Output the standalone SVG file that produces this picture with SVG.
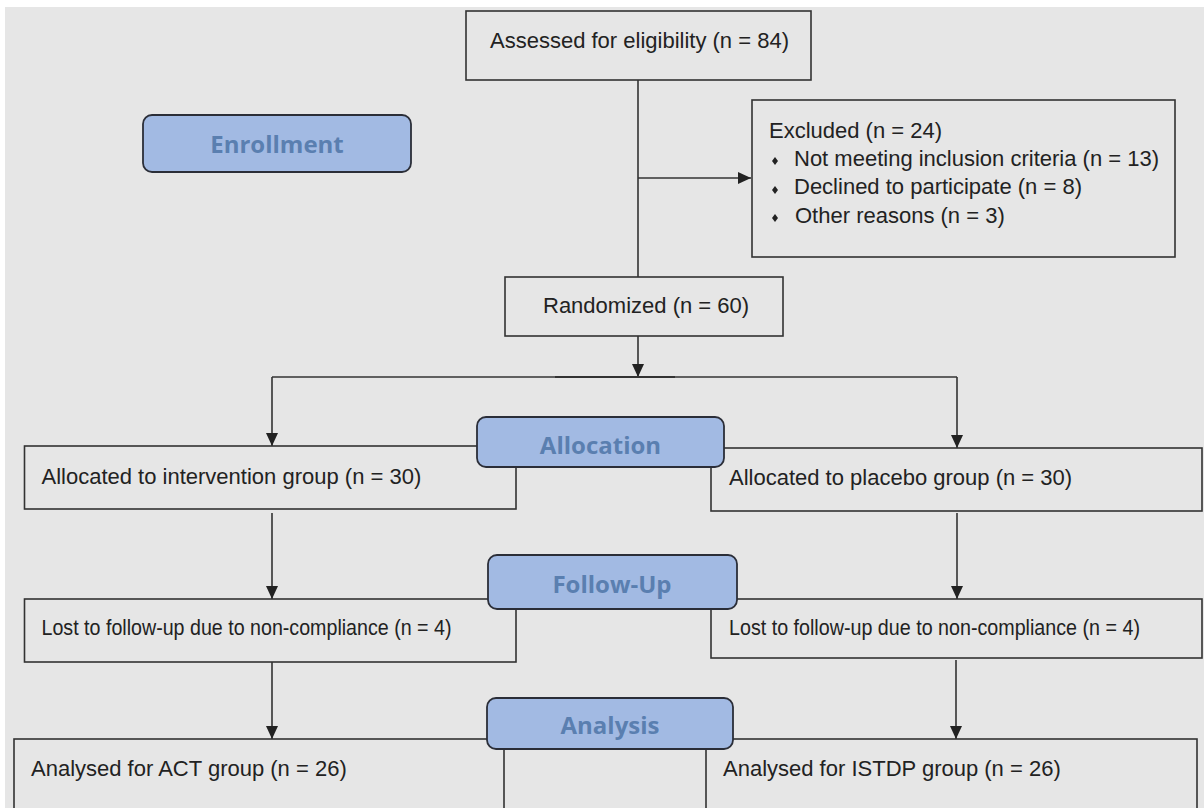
<svg xmlns="http://www.w3.org/2000/svg" width="1204" height="808" viewBox="0 0 1204 808">
<style>
.box{fill:#e6e6e6;stroke:#333;stroke-width:1.6}
.lbl{fill:#a2bae3;stroke:#2b2e38;stroke-width:1.8}
.t{font-family:"Liberation Sans",Arial,sans-serif;font-size:22px;fill:#222}
.lt{font-family:"Open Sans","Noto Sans",sans-serif;font-size:24px;font-weight:700;fill:#5a7fb0;text-anchor:middle}
.ln{fill:none;stroke:#333;stroke-width:1.6}
</style>
<defs>
<marker id="arr" viewBox="0 0 13 12" refX="13" refY="6" markerWidth="13" markerHeight="12" markerUnits="userSpaceOnUse" orient="auto">
<path d="M0,0 L13,6 L0,12 Z" fill="#222"/>
</marker>
<polygon id="bul" points="0,-4 3,0 0,4 -3,0" fill="#222"/>
</defs>
<rect x="0" y="0" width="1204" height="808" fill="#ffffff"/>
<rect x="5" y="7" width="1199" height="801" fill="#e6e6e6"/>

<g id="connectors">
<line class="ln" x1="638" y1="80" x2="638" y2="277"/>
<line class="ln" x1="638" y1="178" x2="751" y2="178" marker-end="url(#arr)"/>
<line class="ln" x1="638" y1="336" x2="638" y2="377" marker-end="url(#arr)"/>
<line class="ln" x1="272" y1="377" x2="957" y2="377"/>
<line x1="555" y1="377" x2="675" y2="377" stroke="#333" stroke-width="2.1"/>
<line class="ln" x1="272" y1="377" x2="272" y2="446" marker-end="url(#arr)"/>
<line class="ln" x1="957" y1="377" x2="957" y2="448" marker-end="url(#arr)"/>
<line class="ln" x1="272" y1="513" x2="272" y2="599" marker-end="url(#arr)"/>
<line class="ln" x1="957" y1="513" x2="957" y2="599" marker-end="url(#arr)"/>
<line class="ln" x1="272" y1="662" x2="272" y2="739" marker-end="url(#arr)"/>
<line class="ln" x1="956" y1="660" x2="956" y2="739" marker-end="url(#arr)"/>
</g>

<g id="assessed">
<rect class="box" x="466" y="11" width="345" height="69"/>
<text class="t" x="490" y="48">Assessed for eligibility (n = 84)</text>
</g>

<g id="excluded">
<rect class="box" x="752" y="100" width="423" height="157"/>
<text class="t" x="769" y="138">Excluded (n = 24)</text>
<use href="#bul" x="775" y="161"/>
<text class="t" x="794" y="166">Not meeting inclusion criteria (n = 13)</text>
<use href="#bul" x="775" y="190"/>
<text class="t" x="794" y="194">Declined to participate (n = 8)</text>
<use href="#bul" x="775" y="218"/>
<text class="t" x="795" y="223">Other reasons (n = 3)</text>
</g>

<g id="randomized">
<rect class="box" x="505" y="277" width="278" height="59"/>
<text class="t" x="543" y="313">Randomized (n = 60)</text>
</g>

<g id="intervention">
<rect class="box" x="24.5" y="446" width="491.5" height="63"/>
<text class="t" x="41.5" y="484">Allocated to intervention group (n = 30)</text>
</g>

<g id="placebo">
<rect class="box" x="711" y="448" width="491" height="63"/>
<text class="t" x="729" y="485">Allocated to placebo group (n = 30)</text>
</g>

<g id="lost-left">
<rect class="box" x="24.5" y="599" width="491.5" height="63"/>
<text class="t" x="41.5" y="635" textLength="410" lengthAdjust="spacingAndGlyphs">Lost to follow-up due to non-compliance (n = 4)</text>
</g>

<g id="lost-right">
<rect class="box" x="711" y="599" width="491" height="59"/>
<text class="t" x="729" y="635" textLength="411" lengthAdjust="spacingAndGlyphs">Lost to follow-up due to non-compliance (n = 4)</text>
</g>

<g id="act">
<rect class="box" x="14" y="739" width="490" height="90"/>
<text class="t" x="31" y="776">Analysed for ACT group (n = 26)</text>
</g>

<g id="istdp">
<rect class="box" x="706" y="739" width="491" height="90"/>
<text class="t" x="723" y="776">Analysed for ISTDP group (n = 26)</text>
</g>

<g id="enrollment">
<rect class="lbl" x="143" y="115" width="268" height="57" rx="9"/>
<text class="lt" x="277" y="153">Enrollment</text>
</g>

<g id="allocation">
<rect class="lbl" x="477" y="417" width="247" height="50" rx="9"/>
<text class="lt" x="600.5" y="454">Allocation</text>
</g>

<g id="follow-up">
<rect class="lbl" x="488" y="555" width="249" height="54" rx="9"/>
<text class="lt" x="612" y="593">Follow-Up</text>
</g>

<g id="analysis">
<rect class="lbl" x="487" y="698" width="246" height="51" rx="9"/>
<text class="lt" x="610" y="734">Analysis</text>
</g>
</svg>
